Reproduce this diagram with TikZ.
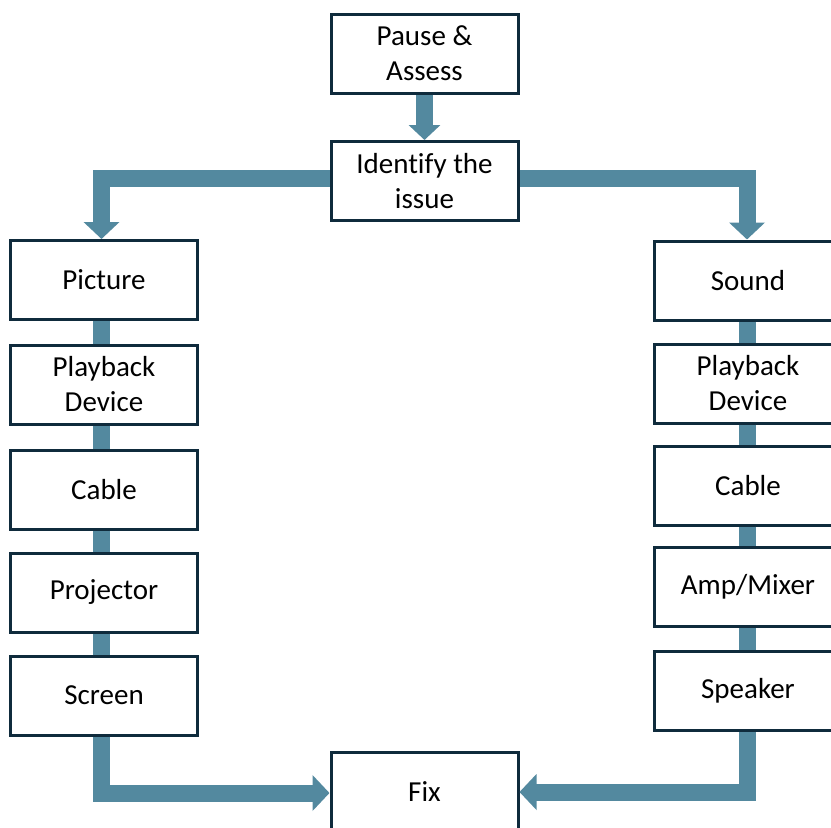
\documentclass[tikz,border=0pt]{standalone}
\usepackage{fontspec}
\setmainfont[Ligatures=NoCommon]{Carlito}
\usetikzlibrary{arrows.meta}
\definecolor{boxline}{HTML}{0F2B3C}
\definecolor{flow}{HTML}{53899F}
\tikzset{
  stepbox/.style={draw=boxline, line width=3pt, fill=white, minimum width=187pt, minimum height=79pt,
    inner sep=0pt, align=center, font=\fontsize{29}{35}\selectfont, text=black},
  conn/.style={draw=flow, line width=17pt, line join=miter},
  connarrow/.style={conn, -{Triangle[width=35pt,length=17pt]}},
}
\begin{document}
\begin{tikzpicture}[x=1pt,y=-1pt]
\clip (0,0) rectangle (831,828);
\fill[white] (0,0) rectangle (831,828);
\node[stepbox] (pause) at (424.5,53.5) {Pause \&\\Assess};
\node[stepbox] (ident) at (424.5,181) {Identify the\\issue};
\node[stepbox] (pic) at (104,280) {Picture};
\node[stepbox] (lplay) at (104,384.5) {Playback\\Device};
\node[stepbox] (lcable) at (104,489.5) {Cable};
\node[stepbox] (proj) at (104,592.5) {Projector};
\node[stepbox] (screen) at (104,695.5) {Screen};
\node[stepbox] (sound) at (748,280.5) {Sound};
\node[stepbox] (rplay) at (748,383.5) {Playback\\Device};
\node[stepbox] (rcable) at (748,485.5) {Cable};
\node[stepbox] (amp) at (748,587) {Amp/Mixer};
\node[stepbox] (speak) at (748,691) {Speaker};
\node[stepbox] (fix) at (424.5,791.5) {Fix};
% connectors
\draw[conn, -{Triangle[width=31pt,length=15pt]}] (pause.south) -- (ident.north);
\draw[connarrow] ([yshift=3pt]ident.west) -| ([xshift=-2.5pt]pic.north);
\draw[connarrow] ([yshift=3pt]ident.east) -| ([xshift=-1pt]sound.north);
\draw[conn] ([xshift=-2.5pt]pic.south) -- ([xshift=-2.5pt]lplay.north);
\draw[conn] ([xshift=-2.5pt]lplay.south) -- ([xshift=-2.5pt]lcable.north);
\draw[conn] ([xshift=-2.5pt]lcable.south) -- ([xshift=-2.5pt]proj.north);
\draw[conn] ([xshift=-2.5pt]proj.south) -- ([xshift=-2.5pt]screen.north);
\draw[conn] ([xshift=-0.5pt]sound.south) -- ([xshift=-0.5pt]rplay.north);
\draw[conn] ([xshift=-0.5pt]rplay.south) -- ([xshift=-0.5pt]rcable.north);
\draw[conn] ([xshift=-0.5pt]rcable.south) -- ([xshift=-0.5pt]amp.north);
\draw[conn] ([xshift=-0.5pt]amp.south) -- ([xshift=-0.5pt]speak.north);
\draw[connarrow] ([xshift=-2.5pt]screen.south) |- ([yshift=-1.5pt]fix.west);
\draw[connarrow] ([xshift=-0.5pt]speak.south) |- ([yshift=-0.5pt]fix.east);
\end{tikzpicture}
\end{document}
